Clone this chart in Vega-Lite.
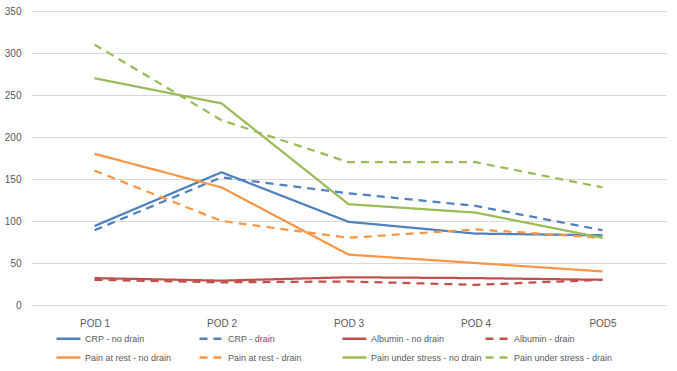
{
  "$schema": "https://vega.github.io/schema/vega-lite/v6.json",
  "width": 635,
  "height": 294,
  "autosize": "none",
  "padding": {"left": 31, "top": 11, "right": 11, "bottom": 66},
  "background": "#ffffff",
  "data": {
    "values": [
      {"day": "POD 1", "series": "CRP - no drain", "value": 94},
      {"day": "POD 2", "series": "CRP - no drain", "value": 158},
      {"day": "POD 3", "series": "CRP - no drain", "value": 99},
      {"day": "POD 4", "series": "CRP - no drain", "value": 85},
      {"day": "POD5", "series": "CRP - no drain", "value": 83},
      {"day": "POD 1", "series": "CRP - drain", "value": 89},
      {"day": "POD 2", "series": "CRP - drain", "value": 152},
      {"day": "POD 3", "series": "CRP - drain", "value": 133},
      {"day": "POD 4", "series": "CRP - drain", "value": 118},
      {"day": "POD5", "series": "CRP - drain", "value": 89},
      {"day": "POD 1", "series": "Albumin - no drain", "value": 32},
      {"day": "POD 2", "series": "Albumin - no drain", "value": 29},
      {"day": "POD 3", "series": "Albumin - no drain", "value": 33},
      {"day": "POD 4", "series": "Albumin - no drain", "value": 32},
      {"day": "POD5", "series": "Albumin - no drain", "value": 30},
      {"day": "POD 1", "series": "Albumin - drain", "value": 30},
      {"day": "POD 2", "series": "Albumin - drain", "value": 27},
      {"day": "POD 3", "series": "Albumin - drain", "value": 28},
      {"day": "POD 4", "series": "Albumin - drain", "value": 24},
      {"day": "POD5", "series": "Albumin - drain", "value": 30},
      {"day": "POD 1", "series": "Pain at rest - no drain", "value": 180},
      {"day": "POD 2", "series": "Pain at rest - no drain", "value": 140},
      {"day": "POD 3", "series": "Pain at rest - no drain", "value": 60},
      {"day": "POD 4", "series": "Pain at rest - no drain", "value": 50},
      {"day": "POD5", "series": "Pain at rest - no drain", "value": 40},
      {"day": "POD 1", "series": "Pain at rest - drain", "value": 160},
      {"day": "POD 2", "series": "Pain at rest - drain", "value": 100},
      {"day": "POD 3", "series": "Pain at rest - drain", "value": 80},
      {"day": "POD 4", "series": "Pain at rest - drain", "value": 90},
      {"day": "POD5", "series": "Pain at rest - drain", "value": 80},
      {"day": "POD 1", "series": "Pain under stress - no drain", "value": 270},
      {"day": "POD 2", "series": "Pain under stress - no drain", "value": 240},
      {"day": "POD 3", "series": "Pain under stress - no drain", "value": 120},
      {"day": "POD 4", "series": "Pain under stress - no drain", "value": 110},
      {"day": "POD5", "series": "Pain under stress - no drain", "value": 80},
      {"day": "POD 1", "series": "Pain under stress - drain", "value": 310},
      {"day": "POD 2", "series": "Pain under stress - drain", "value": 220},
      {"day": "POD 3", "series": "Pain under stress - drain", "value": 170},
      {"day": "POD 4", "series": "Pain under stress - drain", "value": 170},
      {"day": "POD5", "series": "Pain under stress - drain", "value": 140}
    ]
  },
  "mark": {"type": "line", "strokeWidth": 2.25},
  "encoding": {
    "x": {
      "field": "day",
      "type": "ordinal",
      "sort": ["POD 1", "POD 2", "POD 3", "POD 4", "POD5"],
      "scale": {"type": "point", "padding": 0.5},
      "axis": {
        "title": null,
        "labelAngle": 0,
        "ticks": false,
        "grid": false,
        "domainColor": "#d9d9d9",
        "labelPadding": 13,
        "labelColor": "#595959",
        "labelFontSize": 10
      }
    },
    "y": {
      "field": "value",
      "type": "quantitative",
      "scale": {"domain": [0, 350], "nice": false},
      "axis": {
        "title": null,
        "values": [0, 50, 100, 150, 200, 250, 300, 350],
        "ticks": false,
        "domain": false,
        "gridColor": "#d9d9d9",
        "labelPadding": 10,
        "labelColor": "#595959",
        "labelFontSize": 10
      }
    },
    "color": {
      "field": "series",
      "type": "nominal",
      "scale": {
        "domain": ["CRP - no drain", "CRP - drain", "Albumin - no drain", "Albumin - drain", "Pain at rest - no drain", "Pain at rest - drain", "Pain under stress - no drain", "Pain under stress - drain"],
        "range": ["#4F81BD", "#4F81BD", "#C0504D", "#C0504D", "#F79646", "#F79646", "#9BBB59", "#9BBB59"]
      },
      "legend": {
        "title": null,
        "orient": "none",
        "legendX": 24,
        "legendY": 314,
        "direction": "horizontal",
        "columns": 4,
        "gridAlign": "all",
        "columnPadding": -2,
        "rowPadding": -7,
        "padding": 0,
        "symbolType": "stroke",
        "symbolSize": 576,
        "symbolStrokeWidth": 2.5,
        "labelOffset": 3,
        "labelFontSize": 9,
        "labelColor": "#595959",
        "labelLimit": 200
      }
    },
    "strokeDash": {
      "field": "series",
      "type": "nominal",
      "scale": {
        "domain": ["CRP - no drain", "CRP - drain", "Albumin - no drain", "Albumin - drain", "Pain at rest - no drain", "Pain at rest - drain", "Pain under stress - no drain", "Pain under stress - drain"],
        "range": [[1, 0], [8, 6], [1, 0], [8, 6], [1, 0], [8, 6], [1, 0], [8, 6]]
      }
    }
  },
  "config": {
    "font": "Liberation Sans",
    "view": {"stroke": null}
  }
}
